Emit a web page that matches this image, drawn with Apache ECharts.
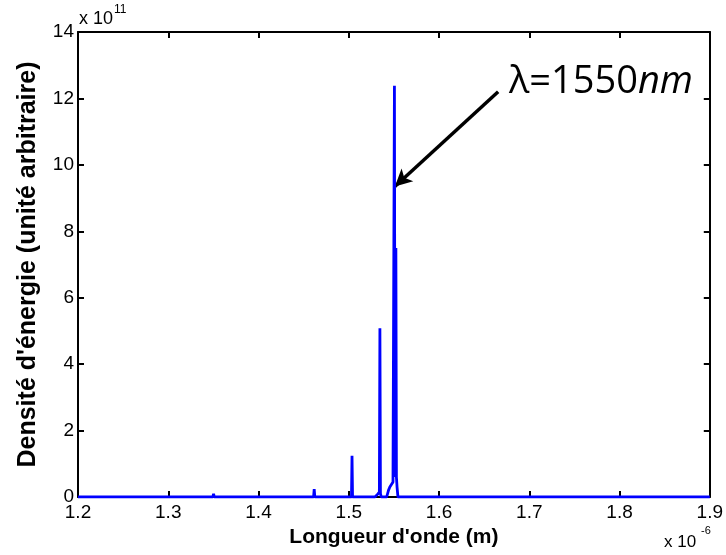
<!DOCTYPE html>
<html>
<head>
<meta charset="utf-8">
<script src="https://cdn.jsdelivr.net/npm/echarts@6/dist/echarts.min.js"></script>
<style>
  html, body { margin: 0; padding: 0; background: #fff; }
  #chart { width: 726px; height: 555px; }
</style>
</head>
<body>
<div id="chart"></div>
<script>
// longueur d'onde (x 10^-6 m) et densité (x 10^11)
const wavelength = [
  1.2000,
  1.2910, 1.2916, 1.2922,
  1.3494, 1.3502, 1.3510,
  1.4092, 1.4098, 1.4104,
  1.4610, 1.4617, 1.4624,
  1.5030, 1.5036, 1.5042,
  1.5290, 1.5318, 1.5330, 1.5339, 1.5345, 1.5351, 1.5360,
  1.5420, 1.5440, 1.5455, 1.5470, 1.5490, 1.5500, 1.5506, 1.5512, 1.5516, 1.5522, 1.5528, 1.5535, 1.5545,
  1.9000
];
const density = [
  0,
  0, 0.03, 0,
  0, 0.10, 0,
  0, 0.03, 0,
  0, 0.24, 0,
  0, 1.24, 0,
  0, 0.08, 0.12, 0.15, 5.08, 0.10, 0,
  0, 0.20, 0.30, 0.35, 0.45, 0.50, 12.38, 0.60, 0.66, 7.50, 0.60, 0.30, 0,
  0
];
const xTicks = [1.2, 1.3, 1.4, 1.5, 1.6, 1.7, 1.8, 1.9];
const yTicks = [0, 2, 4, 6, 8, 10, 12, 14];

// flèche d'annotation (coordonnées des données)
const arrowFrom = [1.6655, 12.2];
const arrowTo = [1.5511, 9.35];

const chart = echarts.init(document.getElementById('chart'), null, { renderer: 'canvas' });

const labelFont = { fontFamily: 'Liberation Sans', fontSize: 19, color: '#000' };
const boxLine = { show: true, onZero: false, lineStyle: { color: '#000', width: 2 } };
const tickIn = { show: true, inside: true, length: 6, lineStyle: { color: '#000', width: 2 } };

const option = {
  animation: false,
  backgroundColor: '#fff',
  grid: { left: 78, right: 14, top: 32, bottom: 58, containLabel: false },
  xAxis: [
    {
      type: 'value', min: xTicks[0], max: xTicks[xTicks.length - 1], interval: 0.1,
      axisLine: boxLine, axisTick: tickIn, splitLine: { show: false },
      axisLabel: Object.assign({ margin: 6, formatter: v => v.toFixed(1) }, labelFont),
      name: "Longueur d'onde (m)", nameLocation: 'middle', nameGap: 26,
      nameTextStyle: { fontFamily: 'Liberation Sans', fontSize: 21, fontWeight: 'bold', color: '#000' }
    },
    {
      type: 'value', position: 'top', min: xTicks[0], max: xTicks[xTicks.length - 1], interval: 0.1,
      axisLine: boxLine, axisTick: tickIn, axisLabel: { show: false }, splitLine: { show: false }
    }
  ],
  yAxis: [
    {
      type: 'value', min: yTicks[0], max: yTicks[yTicks.length - 1], interval: 2,
      axisLine: boxLine, axisTick: tickIn, splitLine: { show: false },
      axisLabel: Object.assign({ margin: 4 }, labelFont),
      name: "Densité d'énergie (unité arbitraire)", nameLocation: 'middle', nameGap: 37,
      nameTextStyle: { fontFamily: 'Liberation Sans', fontSize: 25, fontWeight: 'bold', color: '#000' }
    },
    {
      type: 'value', position: 'right', min: yTicks[0], max: yTicks[yTicks.length - 1], interval: 2,
      axisLine: boxLine, axisTick: tickIn, axisLabel: { show: false }, splitLine: { show: false }
    }
  ],
  series: [
    {
      type: 'line',
      data: wavelength.map((w, i) => [w, density[i]]),
      showSymbol: false,
      lineStyle: { color: '#0000ff', width: 2.8 },
      z: 5,
      markLine: {
        silent: true,
        symbol: ['none', 'arrow'],
        symbolSize: [13, 17],
        label: { show: false },
        lineStyle: { color: '#000', width: 3.5, type: 'solid' },
        data: [[{ coord: arrowFrom }, { coord: arrowTo }]]
      }
    }
  ],
  graphic: [
    {
      type: 'text', left: 79, top: 10,
      style: { text: 'x 10', font: '18px "Liberation Sans"', fill: '#000' }
    },
    {
      type: 'text', left: 114, top: 4,
      style: { text: '11', font: '12px "Liberation Sans"', fill: '#000' }
    },
    {
      type: 'text', left: 664, top: 534,
      style: { text: 'x 10', font: '17px "Liberation Sans"', fill: '#000' }
    },
    {
      type: 'text', left: 701, top: 525,
      style: { text: '-6', font: '11px "Liberation Sans"', fill: '#000' }
    },
    {
      type: 'text', left: 509, top: 63,
      style: {
        text: '{a|λ=1550}{b|nm}',
        rich: {
          a: { fontFamily: 'Open Sans', fontSize: 38, fill: '#000', color: '#000' },
          b: { fontFamily: 'Open Sans', fontSize: 38, fontStyle: 'italic', fill: '#000', color: '#000' }
        }
      }
    }
  ]
};

chart.setOption(option);
</script>
</body>
</html>
